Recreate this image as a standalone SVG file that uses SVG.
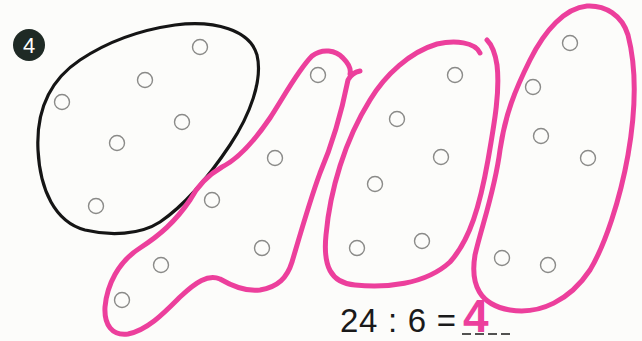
<svg xmlns="http://www.w3.org/2000/svg" width="642" height="341" viewBox="0 0 642 341">
<style>
.dot{fill:none;stroke:#8a8a88;stroke-width:1.4}
.pink{fill:none;stroke:#ec3f9c;stroke-width:5;stroke-linecap:round;stroke-linejoin:round}
.blk{fill:none;stroke:#151515;stroke-width:3.2}
</style>
<rect width="642" height="341" fill="#fcfcfa"/>
<g id="badge">
<circle cx="29" cy="45" r="16" fill="#1f2a25"/>
<text x="29" y="53" font-family="Liberation Sans, Arial, sans-serif" font-size="22" fill="#ffffff" text-anchor="middle">4</text>
</g>
<g id="group-black">
<path class="blk" d="M38,150 C36,110 50,80 80,60 C110,40 140,30 175,25 C215,20 250,30 257,55 C263,80 250,115 230,145 C210,175 185,205 160,222 C140,235 110,236 85,230 C55,222 40,190 38,150 Z"/>
<circle class="dot" cx="200" cy="47" r="7.5"/>
<circle class="dot" cx="145" cy="80" r="7.5"/>
<circle class="dot" cx="62" cy="102" r="7.5"/>
<circle class="dot" cx="182" cy="122" r="7.5"/>
<circle class="dot" cx="117" cy="143" r="7.5"/>
<circle class="dot" cx="96" cy="206" r="7.5"/>
</g>
<g id="group-1">
<path class="pink" d="M360,71 C355,72 351,74 348,80 C342,110 332,145 320,173 C310,200 300,235 292,262 C287,278 278,287 260,290 C245,292 232,286 220,279 C208,274 196,282 180,297 C165,312 148,330 128,334 C112,336 104,325 105,307 C107,285 118,262 140,248 C160,235 175,222 190,200 C198,185 208,175 222,167 C240,158 255,140 270,118 C285,95 298,70 312,56 C322,48 336,50 343,58 C349,64 351,70 350,74"/>
<circle class="dot" cx="318" cy="75" r="7.5"/>
<circle class="dot" cx="275" cy="158" r="7.5"/>
<circle class="dot" cx="212" cy="200" r="7.5"/>
<circle class="dot" cx="262" cy="248" r="7.5"/>
<circle class="dot" cx="161" cy="265" r="7.5"/>
<circle class="dot" cx="122" cy="300" r="7.5"/>
</g>
<g id="group-2">
<path class="pink" d="M480,53 C475,42 455,40 437,44 C410,52 385,75 370,100 C345,140 330,190 326,235 C323,265 330,283 355,285 C385,288 425,285 450,262 C470,240 480,205 488,160 C495,120 500,90 497,65 C495,52 492,45 487,40"/>
<circle class="dot" cx="455" cy="75" r="7.5"/>
<circle class="dot" cx="397" cy="119" r="7.5"/>
<circle class="dot" cx="441" cy="157" r="7.5"/>
<circle class="dot" cx="375" cy="184" r="7.5"/>
<circle class="dot" cx="422" cy="241" r="7.5"/>
<circle class="dot" cx="357" cy="248" r="7.5"/>
</g>
<g id="group-3">
<path class="pink" d="M587,6 C565,8 545,30 530,60 C515,90 505,115 500,150 C495,190 482,225 475,255 C470,285 480,305 510,310 C540,315 570,300 590,270 C605,245 620,200 628,155 C635,115 637,70 628,35 C622,15 605,5 587,6 Z"/>
<circle class="dot" cx="570" cy="43" r="7.5"/>
<circle class="dot" cx="533" cy="87" r="7.5"/>
<circle class="dot" cx="541" cy="136" r="7.5"/>
<circle class="dot" cx="588" cy="158" r="7.5"/>
<circle class="dot" cx="502" cy="258" r="7.5"/>
<circle class="dot" cx="548" cy="265" r="7.5"/>
</g>
<g id="equation">
<text x="340" y="332" font-family="Liberation Sans, Arial, sans-serif" font-size="33" fill="#1a1a1a" textLength="116" lengthAdjust="spacing">24 : 6 =</text>
<line x1="462" y1="334" x2="512" y2="334" stroke="#1a1a1a" stroke-width="1.5" stroke-dasharray="9,4"/>
<text x="463" y="332" font-family="Liberation Sans, Arial, sans-serif" font-size="46" font-weight="bold" fill="#ec3f9c">4</text>
</g>
</svg>
